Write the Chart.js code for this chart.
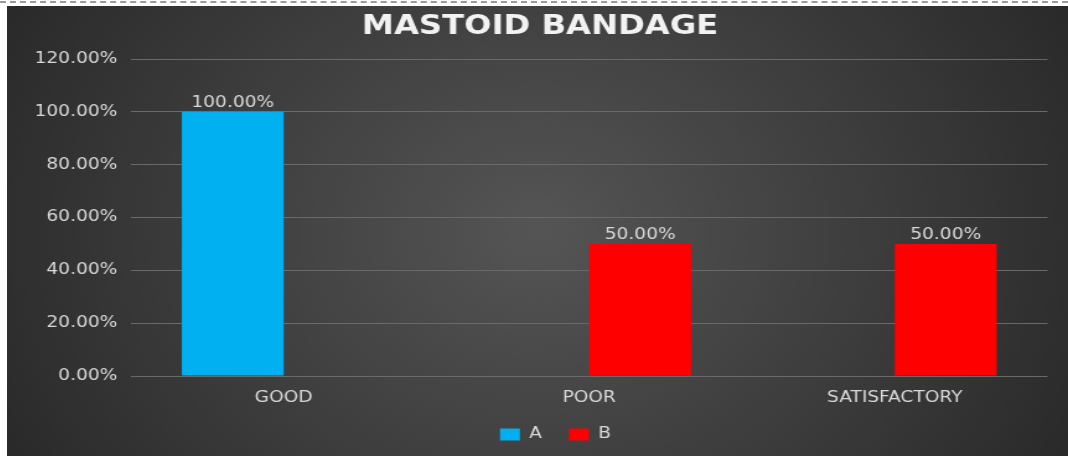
<!DOCTYPE html>
<html>
<head>
<meta charset="utf-8">
<script src="https://cdn.jsdelivr.net/npm/chart.js@4/dist/chart.umd.min.js"></script>
<style>
  html, body { margin: 0; padding: 0; background: #ffffff; width: 1068px; height: 456px; overflow: hidden; }
  #topline { position: absolute; left: 0; top: 1px; width: 1068px; height: 0; border-top: 2px dashed #9a9a9a; }
  #wrap { position: absolute; left: 7px; top: 6px; width: 1061px; height: 450px; }
  #c { width: 1061px; height: 450px; display: block; }
</style>
</head>
<body>
<div id="topline"></div>
<div id="wrap"><canvas id="c" width="856" height="450" style="width:1061px;height:450px"></canvas></div>
<script>
const categories = ['GOOD', 'POOR', 'SATISFACTORY'];
const seriesA = [100, null, null];
const seriesB = [null, 50, 50];
const seriesNames = ['A', 'B'];
const yTicksMax = 120;
const yTicksStep = 20;

const FONT = '"DejaVu Sans", sans-serif';

const bgPlugin = {
  id: 'bg',
  beforeDraw(chart) {
    const { ctx, width, height } = chart;
    const g = ctx.createRadialGradient(width / 2, height / 2, 0, width / 2, height / 2, width * 0.6);
    g.addColorStop(0, '#555555');
    g.addColorStop(1, '#272727');
    ctx.save();
    ctx.fillStyle = g;
    ctx.fillRect(0, 0, width, height);
    ctx.restore();
  }
};

// shift title and legend boxes horizontally to match the original's placement
const shiftPlugin = {
  id: 'shiftBoxes',
  afterLayout(chart) {
    if (chart.titleBlock) { chart.titleBlock.left += 10.3; chart.titleBlock.right += 10.3; }
    if (chart.legend) { chart.legend.left += 22.8; chart.legend.right += 22.8; }
  }
};

const labelPlugin = {
  id: 'barLabels',
  afterDatasetsDraw(chart) {
    const { ctx } = chart;
    ctx.save();
    ctx.font = '15px ' + FONT;
    ctx.fillStyle = '#d9d9d9';
    ctx.textAlign = 'center';
    ctx.textBaseline = 'alphabetic';
    chart.data.datasets.forEach((ds, i) => {
      const meta = chart.getDatasetMeta(i);
      meta.data.forEach((el, j) => {
        const v = ds.data[j];
        if (v === null || v === undefined) return;
        ctx.fillText(v.toFixed(2) + '%', el.x, el.y - 5);
      });
    });
    ctx.restore();
  }
};

new Chart(document.getElementById('c'), {
  type: 'bar',
  data: {
    labels: categories,
    datasets: [
      { label: seriesNames[0], data: seriesA, backgroundColor: '#00b0f0', borderWidth: 0 },
      { label: seriesNames[1], data: seriesB, backgroundColor: '#ff0000', borderWidth: 0 }
    ]
  },
  options: {
    responsive: false,
    maintainAspectRatio: false,
    devicePixelRatio: 1,
    animation: false,
    events: [],
    layout: { padding: { left: 0, right: 16.5, top: 0, bottom: 4 } },
    categoryPercentage: 0.667,
    barPercentage: 1.0,
    plugins: {
      title: {
        display: true,
        text: 'MASTOID BANDAGE',
        color: '#f2f2f2',
        font: { family: FONT, size: 26, weight: 'bold' },
        padding: { top: 6, bottom: 15.8 }
      },
      legend: {
        position: 'bottom',
        labels: {
          color: '#d9d9d9',
          boxWidth: 16,
          boxHeight: 12,
          padding: 22,
          font: { family: FONT, size: 15 }
        }
      },
      tooltip: { enabled: false }
    },
    scales: {
      x: {
        afterFit(scale) { scale.height -= 15; },
        grid: { display: false, drawTicks: false },
        border: { display: false },
        ticks: { color: '#d9d9d9', padding: 13, font: { family: FONT, size: 15 } }
      },
      y: {
        min: 0,
        max: yTicksMax,
        afterFit(scale) { scale.width = 100; },
        grid: { color: '#6a6a6a', lineWidth: 1, drawTicks: false },
        border: { display: false },
        ticks: {
          stepSize: yTicksStep,
          color: '#d9d9d9',
          padding: 11,
          font: { family: FONT, size: 15 },
          callback: (v) => v.toFixed(2) + '%'
        }
      }
    }
  },
  plugins: [bgPlugin, shiftPlugin, labelPlugin]
});
</script>
</body>
</html>
